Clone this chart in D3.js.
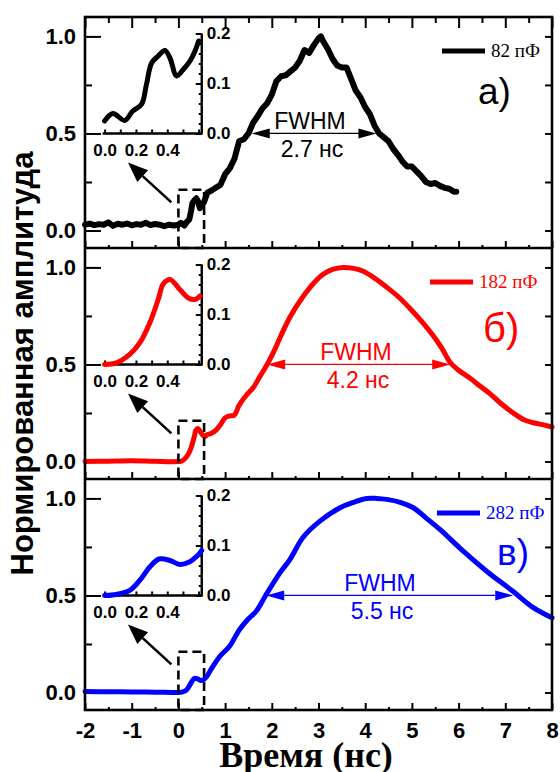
<!DOCTYPE html>
<html>
<head>
<meta charset="utf-8">
<script src="https://d3js.org/d3.v7.min.js"></script>
<style>
  body { margin: 0; background: #fff; }
</style>
</head>
<body>
<svg id="chart" width="560" height="772" font-family="Liberation Sans, Arial, sans-serif"></svg>
<script>
// ---- data ----
const xTicks = [-2, -1, 0, 1, 2, 3, 4, 5, 6, 7, 8];
const xMinor = [-1.5, -0.5, 0.5, 1.5, 2.5, 3.5, 4.5, 5.5, 6.5, 7.5];
const yTicks = [0, 0.5, 1.0];
const yMinor = [0.25, 0.75];
const insetXTicks = [0, 0.2, 0.4];
const insetYTicks = [0, 0.1, 0.2];

const capLabels = ["82 пФ", "182 пФ", "282 пФ"];
const panelLabels = ["а)", "б)", "в)"];
const colors = ["#000000", "#ff0000", "#0000ff"];
const fwhmText = ["2.7 нс", "4.2 нс", "5.5 нс"];
const fwhmStart = [1.57, 1.9, 1.88];
const fwhmEnd = [4.24, 5.82, 7.17];

// [time (нс), normalized amplitude]
const pulse82 = [
  [-2, 0.03], [-1.9, 0.036], [-1.8, 0.028], [-1.7, 0.033], [-1.6, 0.03], [-1.5, 0.042],
  [-1.4, 0.024], [-1.3, 0.035], [-1.2, 0.03], [-1.1, 0.036], [-1, 0.027], [-0.9, 0.033],
  [-0.8, 0.03], [-0.7, 0.04], [-0.6, 0.028], [-0.5, 0.034], [-0.4, 0.03], [-0.3, 0.022],
  [-0.2, 0.03], [-0.1, 0.026], [0, 0.03], [0.05, 0.04], [0.13, 0.026], [0.18, 0.045],
  [0.235, 0.058], [0.27, 0.1], [0.3, 0.141], [0.34, 0.155], [0.385, 0.166], [0.42, 0.15],
  [0.46, 0.115], [0.5, 0.128], [0.545, 0.145], [0.58, 0.168], [0.62, 0.195], [0.7, 0.205],
  [0.8, 0.22], [0.9, 0.235], [1.0, 0.29], [1.1, 0.32], [1.2, 0.37], [1.3, 0.46], [1.4, 0.47],
  [1.5, 0.5], [1.6, 0.555], [1.7, 0.59], [1.8, 0.63], [1.9, 0.655], [2.0, 0.7], [2.1, 0.77],
  [2.2, 0.795], [2.3, 0.8], [2.4, 0.82], [2.5, 0.84], [2.6, 0.875], [2.7, 0.93], [2.8, 0.915],
  [2.9, 0.955], [3.0, 0.99], [3.05, 1.0], [3.1, 0.975], [3.2, 0.935], [3.3, 0.885], [3.4, 0.85],
  [3.5, 0.84], [3.6, 0.84], [3.7, 0.78], [3.8, 0.72], [3.9, 0.685], [4.0, 0.635], [4.1, 0.6],
  [4.2, 0.54], [4.3, 0.5], [4.4, 0.48], [4.5, 0.46], [4.6, 0.42], [4.7, 0.39], [4.8, 0.355],
  [4.9, 0.33], [5.0, 0.33], [5.1, 0.305], [5.2, 0.28], [5.3, 0.25], [5.4, 0.24], [5.5, 0.245],
  [5.6, 0.23], [5.7, 0.22], [5.8, 0.215], [5.9, 0.2], [5.95, 0.2]
];
const pulse182 = [
  [-2, 0], [-1.5, 0.002], [-1, 0.004], [-0.5, 0.001], [0, 0], [0.075, 0.003], [0.16, 0.02],
  [0.224, 0.043], [0.288, 0.083], [0.342, 0.13], [0.374, 0.161], [0.417, 0.17], [0.48, 0.15],
  [0.534, 0.133], [0.577, 0.13], [0.609, 0.137], [0.7, 0.145], [0.8, 0.16], [0.9, 0.19],
  [1.0, 0.225], [1.1, 0.235], [1.2, 0.24], [1.3, 0.29], [1.45, 0.34], [1.6, 0.38], [1.75, 0.44],
  [1.9, 0.5], [2.05, 0.57], [2.18, 0.64], [2.39, 0.745], [2.67, 0.85], [2.9, 0.92], [3.1, 0.965],
  [3.3, 0.99], [3.53, 1.0], [3.75, 0.995], [3.96, 0.98], [4.2, 0.945], [4.45, 0.9], [4.75, 0.84],
  [5.03, 0.77], [5.25, 0.71], [5.45, 0.65], [5.65, 0.58], [5.82, 0.51], [6.0, 0.47], [6.24, 0.43],
  [6.45, 0.39], [6.67, 0.35], [6.9, 0.3], [7.17, 0.25], [7.4, 0.215], [7.6, 0.2], [7.8, 0.19],
  [8.0, 0.178]
];
const pulse282 = [
  [-2, 0.005], [-1.5, 0.004], [-1, 0.003], [-0.5, 0.002], [0, 0], [0.075, 0.002], [0.16, 0.01],
  [0.224, 0.03], [0.288, 0.057], [0.348, 0.073], [0.417, 0.07], [0.48, 0.062], [0.54, 0.067],
  [0.609, 0.083], [0.7, 0.12], [0.89, 0.187], [1.1, 0.24], [1.31, 0.325], [1.5, 0.38],
  [1.67, 0.42], [1.88, 0.505], [2.17, 0.615], [2.39, 0.686], [2.67, 0.8], [3.03, 0.883],
  [3.46, 0.952], [3.75, 0.98], [4.03, 1.0], [4.25, 1.0], [4.46, 0.995], [4.75, 0.98],
  [5.03, 0.952], [5.3, 0.9], [5.6, 0.84], [6.1, 0.728], [6.6, 0.625], [7.17, 0.52],
  [7.6, 0.437], [8.0, 0.385]
];

// zoomed start of each pulse (insets)
const inset82 = [
  [0, 0.025], [0.053, 0.04], [0.128, 0.026], [0.18, 0.045], [0.235, 0.058], [0.267, 0.098],
  [0.3, 0.141], [0.342, 0.155], [0.385, 0.166], [0.417, 0.151], [0.46, 0.115], [0.502, 0.128],
  [0.545, 0.145], [0.577, 0.165], [0.6, 0.185]
];
const inset182 = [
  [0, 0], [0.075, 0.003], [0.16, 0.02], [0.224, 0.043], [0.288, 0.083], [0.342, 0.13],
  [0.374, 0.161], [0.417, 0.17], [0.48, 0.15], [0.534, 0.133], [0.577, 0.13], [0.609, 0.137]
];
const inset282 = [
  [0, 0], [0.075, 0.002], [0.16, 0.01], [0.224, 0.03], [0.288, 0.057], [0.348, 0.073],
  [0.417, 0.07], [0.48, 0.062], [0.54, 0.067], [0.6, 0.082], [0.62, 0.09]
];

const pulses = [pulse82, pulse182, pulse282];
const insets = [inset82, inset182, inset282];

// ---- layout ----
const svg = d3.select('#chart');
const sans = 'Liberation Sans, Arial, sans-serif';
const serif = 'Liberation Serif, Times New Roman, serif';
const plotLeft = 85, plotRight = 552, plotTop = 17, plotBottom = 710;
const panelH = (plotBottom - plotTop) / 3;
const x = d3.scaleLinear([-2, 8], [plotLeft, plotRight]);

// annotation spots (pixels)
const legendX = [442, 430, 437];
const labelPos = [[478, 87], [483, 94], [497, 86]];
const fwhmLabelX = [310, 356, 380];

function styleAxis(g, size) {
  g.select('.domain').remove();
  g.selectAll('line').attr('stroke', '#000').attr('stroke-width', 2);
  g.attr('font-family', sans).attr('font-size', size).attr('font-weight', 'bold');
  g.selectAll('text').attr('fill', '#000');
}

function arrowHead(g, tipX, tipY, fromX, fromY, len, halfW, color) {
  const a = Math.atan2(tipY - fromY, tipX - fromX);
  const bx = tipX - len * Math.cos(a), by = tipY - len * Math.sin(a);
  const px = -Math.sin(a) * halfW, py = Math.cos(a) * halfW;
  g.append('path')
    .attr('d', `M${tipX},${tipY}L${bx + px},${by + py}L${bx - px},${by - py}Z`)
    .attr('fill', color);
  return [bx, by];
}

pulses.forEach((data, i) => {
  const pTop = plotTop + i * panelH, pBot = pTop + panelH;
  const y = d3.scaleLinear([-0.09, 1.1], [pBot, pTop]);
  const g = svg.append('g');
  const col = colors[i];

  // left axis
  styleAxis(g.append('g').attr('transform', `translate(${plotLeft},0)`)
    .call(d3.axisLeft(y).tickValues(yTicks).tickFormat(d3.format('.1f'))
      .tickSizeInner(-16).tickSizeOuter(0).tickPadding(9)), 22);
  styleAxis(g.append('g').attr('transform', `translate(${plotLeft},0)`)
    .call(d3.axisLeft(y).tickValues(yMinor).tickFormat('').tickSizeInner(-7).tickSizeOuter(0)), 22);
  // right axis
  styleAxis(g.append('g').attr('transform', `translate(${plotRight},0)`)
    .call(d3.axisRight(y).tickValues(yMinor.concat(yTicks)).tickFormat('')
      .tickSizeInner(-7).tickSizeOuter(0)), 22);
  // bottom axis
  styleAxis(g.append('g').attr('transform', `translate(0,${pBot})`)
    .call(d3.axisBottom(x).tickValues(xTicks).tickFormat(d => i === 2 ? String(d) : '')
      .tickSizeInner(-7).tickSizeOuter(0).tickPadding(12)), 22);
  styleAxis(g.append('g').attr('transform', `translate(0,${pBot})`)
    .call(d3.axisBottom(x).tickValues(xMinor).tickFormat('').tickSizeInner(-3).tickSizeOuter(0)), 22);
  if (i === 0) {
    styleAxis(g.append('g').attr('transform', `translate(0,${pTop})`)
      .call(d3.axisTop(x).tickValues(xTicks).tickFormat('').tickSizeInner(-11).tickSizeOuter(0)), 22);
    styleAxis(g.append('g').attr('transform', `translate(0,${pTop})`)
      .call(d3.axisTop(x).tickValues(xMinor).tickFormat('').tickSizeInner(-6).tickSizeOuter(0)), 22);
  }

  // main curve
  const line = d3.line().x(d => x(d[0])).y(d => y(d[1]))
    .curve(i === 0 ? d3.curveLinear : d3.curveCatmullRom);
  g.append('path').datum(data).attr('d', line)
    .attr('fill', 'none').attr('stroke', col)
    .attr('stroke-width', i === 0 ? 6 : 5).attr('stroke-linejoin', 'round').attr('stroke-linecap', 'round');

  // dashed box around the onset
  g.append('rect')
    .attr('x', x(0)).attr('y', y(0.21))
    .attr('width', x(0.55) - x(0)).attr('height', pBot - y(0.21))
    .attr('fill', 'none').attr('stroke', '#000').attr('stroke-width', 2.6)
    .attr('stroke-dasharray', '9,5');

  // arrow to the inset
  const tail = [x(-0.15), y(0.145)], tip = [x(-1.08), y(0.35)];
  const base = arrowHead(g, tip[0], tip[1], tail[0], tail[1], 20, 8, '#000');
  g.append('line').attr('x1', tail[0]).attr('y1', tail[1]).attr('x2', base[0]).attr('y2', base[1])
    .attr('stroke', '#000').attr('stroke-width', 2.6);

  // inset
  const ix = d3.scaleLinear([0, 0.62], [x(-1.58), x(0.5)]);
  const iy = d3.scaleLinear([0, 0.2], [y(0.5), y(1.015)]);
  const ig = g.append('g');
  ig.append('line').attr('x1', ix(0) - 2).attr('x2', ix(0.62)).attr('y1', iy(0)).attr('y2', iy(0))
    .attr('stroke', '#000').attr('stroke-width', 2.4);
  ig.append('line').attr('x1', ix(0.62)).attr('x2', ix(0.62)).attr('y1', iy(0) + 1).attr('y2', iy(0.2))
    .attr('stroke', '#000').attr('stroke-width', 2.4);
  styleAxis(ig.append('g').attr('transform', `translate(0,${iy(0)})`)
    .call(d3.axisBottom(ix).tickValues([0, 0.1, 0.2, 0.3, 0.4, 0.5, 0.6]).tickFormat(d => insetXTicks.includes(d) ? d3.format('.1f')(d) : '')
      .tickSizeInner(-4).tickSizeOuter(0).tickPadding(10)), 17);
  styleAxis(ig.append('g').attr('transform', `translate(${ix(0.62)},0)`)
    .call(d3.axisRight(iy).tickValues(insetYTicks).tickFormat(d3.format('.1f'))
      .tickSizeInner(-6).tickSizeOuter(0).tickPadding(5)), 17);
  styleAxis(ig.append('g').attr('transform', `translate(${ix(0.62)},0)`)
    .call(d3.axisRight(iy).tickValues(d3.range(0.02, 0.2, 0.02)).tickFormat('')
      .tickSizeInner(-3).tickSizeOuter(0)), 17);
  const iline = d3.line().x(d => ix(d[0])).y(d => iy(d[1])).curve(d3.curveCatmullRom);
  ig.append('path').datum(insets[i]).attr('d', iline)
    .attr('fill', 'none').attr('stroke', col).attr('stroke-width', 5)
    .attr('stroke-linecap', 'round').attr('stroke-linejoin', 'round');

  // FWHM arrow
  const ay = y(0.5);
  const x1 = x(fwhmStart[i]), x2 = x(fwhmEnd[i]);
  arrowHead(g, x1, ay, x2, ay, 18, 5, col);
  arrowHead(g, x2, ay, x1, ay, 18, 5, col);
  g.append('line').attr('x1', x1 + 16).attr('x2', x2 - 16).attr('y1', ay).attr('y2', ay)
    .attr('stroke', col).attr('stroke-width', 1.3);
  g.append('text').attr('x', fwhmLabelX[i]).attr('y', ay - 4).attr('text-anchor', 'middle')
    .attr('font-family', sans).attr('font-size', 23).attr('fill', col).text('FWHM');
  g.append('text').attr('x', fwhmLabelX[i] + 2).attr('y', ay + 24).attr('text-anchor', 'middle')
    .attr('font-family', sans).attr('font-size', 23).attr('fill', col).text(fwhmText[i]);

  // legend
  g.append('line').attr('x1', legendX[i]).attr('x2', legendX[i] + 43)
    .attr('y1', pTop + 34).attr('y2', pTop + 34)
    .attr('stroke', col).attr('stroke-width', 5);
  g.append('text').attr('x', legendX[i] + 49).attr('y', pTop + 40)
    .attr('font-family', serif).attr('font-size', 19).attr('fill', col).text(capLabels[i]);

  // panel label
  g.append('text').attr('x', labelPos[i][0]).attr('y', pTop + labelPos[i][1])
    .attr('font-family', sans).attr('font-size', i === 1 ? 40 : 37).attr('fill', col)
    .text(panelLabels[i]);
});

// frame
const frame = svg.append('g').attr('fill', 'none').attr('stroke', '#000').attr('stroke-width', 2.6);
frame.append('rect').attr('x', plotLeft).attr('y', plotTop)
  .attr('width', plotRight - plotLeft).attr('height', plotBottom - plotTop);
[1, 2].forEach(k => frame.append('line').attr('x1', plotLeft).attr('x2', plotRight)
  .attr('y1', plotTop + k * panelH).attr('y2', plotTop + k * panelH));

// axis titles
svg.append('text').attr('transform', `translate(33,${(plotTop + plotBottom) / 2}) rotate(-90)`)
  .attr('text-anchor', 'middle').attr('font-family', sans)
  .attr('font-size', 31).attr('font-weight', 'bold')
  .text('Нормированная амплитуда');
svg.append('text').attr('x', 306).attr('y', 767).attr('text-anchor', 'middle')
  .attr('font-family', serif).attr('font-size', 36).attr('font-weight', 'bold')
  .text('Время (нс)');
</script>
</body>
</html>
